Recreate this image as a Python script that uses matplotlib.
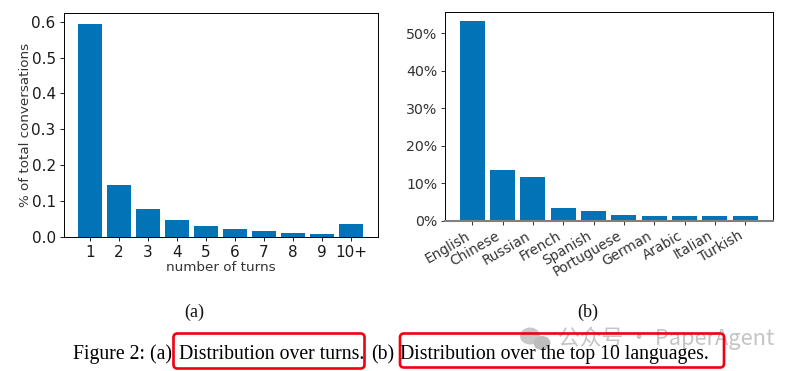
import matplotlib
matplotlib.use('Agg')
import matplotlib.pyplot as plt
from matplotlib.patches import FancyBboxPatch, Ellipse
from matplotlib.ticker import PercentFormatter

turn_labels = ['1', '2', '3', '4', '5', '6', '7', '8', '9', '10+']
turn_values = [0.594, 0.146, 0.079, 0.048, 0.032, 0.023, 0.018, 0.012, 0.009, 0.037]

languages = ['English', 'Chinese', 'Russian', 'French', 'Spanish', 'Portuguese',
             'German', 'Arabic', 'Italian', 'Turkish']
language_values = [53.1, 13.5, 11.6, 3.4, 2.6, 1.5, 1.25, 1.25, 1.25, 1.25]

W, H = 798, 371
BLUE = '#0173b6'
DARK = '#1a1a1a'


def px_axes(fig, left, top, right, bottom):
    return fig.add_axes([left / W, 1 - bottom / H, (right - left) / W, (bottom - top) / H])


fig = plt.figure(figsize=(W / 100, H / 100), dpi=100, facecolor='white')

# panel a
ax1 = px_axes(fig, 64, 13, 378, 237)
ax1.bar(range(1, 11), turn_values, width=0.82, color=BLUE)
ax1.set_xticks(range(1, 11))
ax1.set_xticklabels(turn_labels)
ax1.set_xlim(0.1, 10.93)
ax1.set_ylim(0, 0.624)
ax1.set_yticks([0, 0.1, 0.2, 0.3, 0.4, 0.5, 0.6])
ax1.tick_params(labelsize=11, length=3, width=0.7, pad=3, colors=DARK)
ax1.set_xlabel('number of turns', fontsize=9.7, labelpad=0.5, color='#333333')
ax1.set_ylabel('% of total conversations', fontsize=9.7, labelpad=-0.2, color='#333333')

# panel b
ax2 = px_axes(fig, 445, 12, 772.5, 221)
ax2.bar(range(10), language_values, width=0.825, color=BLUE)
ax2.set_xticks(range(10))
ax2.set_xticklabels(languages, rotation=30, ha='right')
ax2.set_xlim(-0.9, 9.9)
ax2.set_ylim(0, 55.6)
ax2.yaxis.set_major_formatter(PercentFormatter(decimals=0))
ax2.set_yticks([0, 10, 20, 30, 40, 50])
ax2.tick_params(labelsize=10.2, length=3, width=0.7, pad=2.5, colors='#333333')
ax2.tick_params(axis='x', labelsize=9.8)

for a in (ax1, ax2):
    for s in a.spines.values():
        s.set_linewidth(0.7)
ax2.spines['bottom'].set_color('#808080')
ax2.spines['bottom'].set_linewidth(1.5)

# overlay for the caption
ov = fig.add_axes([0, 0, 1, 1], facecolor='none')
ov.set_xlim(0, W)
ov.set_ylim(H, 0)
ov.axis('off')

serif = 'Liberation Serif'
ov.text(194.5, 312.5, '(a)', family=serif, fontsize=13, ha='center', va='center', color='#111111')
ov.text(588, 312.5, '(b)', family=serif, fontsize=13, ha='center', va='center', color='#111111')

# watermark sits under the caption text
ov.add_patch(Ellipse((530, 336), 20, 17, color='#c8c8c8', lw=0, zorder=1))
ov.add_patch(Ellipse((542, 343), 17, 14, color='#bdbdbd', lw=0, zorder=1))
ov.text(558, 338, '公众号 · PaperAgent', family=['Noto Sans CJK SC', 'DejaVu Sans'], fontsize=15.7,
        ha='left', va='center', color='#c4c4c4', zorder=1)

ov.text(73, 354.5, 'Figure 2: (a)', family=serif, fontsize=14.2, ha='left', va='center', color='black', zorder=3)
ov.text(179, 354.5, 'Distribution over turns.', family=serif, fontsize=14.2, ha='left', va='center', color='black', zorder=3)
ov.text(371, 354.5, '(b)', family=serif, fontsize=14.2, ha='left', va='center', color='black', zorder=3)
ov.text(400, 354.5, 'Distribution over the top 10 languages.', family=serif, fontsize=14.2, ha='left', va='center',
        color='black', zorder=3)

for x0, x1, y1 in [(173.5, 364.5, 368.5), (400, 724, 367.5)]:
    ov.add_patch(FancyBboxPatch((x0, 333.5), x1 - x0, y1 - 333.5, boxstyle='round,pad=0,rounding_size=4',
                                fc='none', ec='#f2000f', lw=1.9, zorder=2))
fig.savefig('out.png', dpi=100)
